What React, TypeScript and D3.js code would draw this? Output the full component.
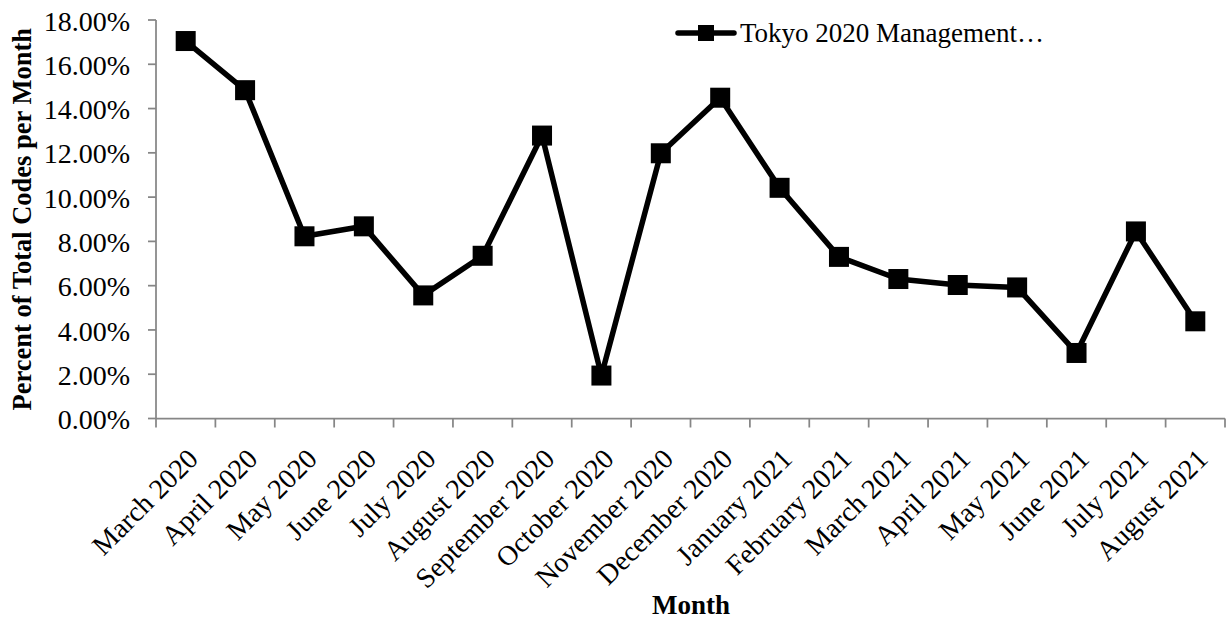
import React from "react";
import * as d3 from "d3";

// Monthly share of total codes, March 2020 – August 2021
const months = [
  "March 2020", "April 2020", "May 2020", "June 2020", "July 2020", "August 2020",
  "September 2020", "October 2020", "November 2020", "December 2020", "January 2021",
  "February 2021", "March 2021", "April 2021", "May 2021", "June 2021", "July 2021", "August 2021",
];
const shares = [
  17.05, 14.83, 8.23, 8.68, 5.56, 7.35, 12.78, 1.94, 11.98, 14.49, 10.42,
  7.30, 6.30, 6.03, 5.92, 2.96, 8.45, 4.39,
];
const yTicks = [0, 2, 4, 6, 8, 10, 12, 14, 16, 18];
const seriesName = "Tokyo 2020 Management…";

const W = 1229;
const H = 627;
const FONT = "'Liberation Serif', 'Times New Roman', serif";
const AXIS = "#868686";

export default function App() {
  const left = 156;
  const right = 1225;
  const top = 20;
  const bottom = 418.5;

  const x = d3.scaleBand<string>().domain(months).range([left, right]).padding(0);
  const y = d3.scaleLinear().domain([0, 18]).range([bottom, top]);
  const cx = (m: string) => (x(m) ?? 0) + x.bandwidth() / 2;

  const line = d3
    .line<number>()
    .x((_, i) => cx(months[i]))
    .y((d) => y(d));

  const xTickPos = [...months.map((m) => x(m) ?? 0), right];
  const marker = 20;

  return (
    <svg
      width={W}
      height={H}
      style={{ position: "absolute", left: 0, top: 0, background: "#fff" }}
      fontFamily={FONT}
    >
      {/* y axis */}
      <line x1={left} x2={left} y1={top} y2={bottom} stroke={AXIS} strokeWidth={1.75} />
      {yTicks.map((t) => (
        <g key={t}>
          <line x1={left - 8} x2={left} y1={y(t)} y2={y(t)} stroke={AXIS} strokeWidth={1.75} />
          <text x={130} y={y(t)} dy="0.38em" textAnchor="end" fontSize={28} fill="#000">
            {t.toFixed(2)}%
          </text>
        </g>
      ))}

      {/* x axis */}
      <line x1={left} x2={right} y1={bottom} y2={bottom} stroke={AXIS} strokeWidth={1.75} />
      {xTickPos.map((p, i) => (
        <line key={i} x1={p} x2={p} y1={bottom} y2={bottom + 9} stroke={AXIS} strokeWidth={1.75} />
      ))}
      {months.map((m) => (
        <text
          key={m}
          transform={`translate(${cx(m) + 1},${bottom + 29}) rotate(-45)`}
          textAnchor="end"
          dy="0.66em"
          fontSize={28}
          fill="#000"
        >
          {m}
        </text>
      ))}

      {/* axis titles */}
      <text x={691} y={614} textAnchor="middle" fontSize={27} fontWeight="bold" fill="#000">
        Month
      </text>
      <text
        transform={`translate(31,${(top + bottom) / 2}) rotate(-90)`}
        textAnchor="middle"
        fontSize={26.5}
        fontWeight="bold"
        fill="#000"
      >
        Percent of Total Codes per Month
      </text>

      {/* series */}
      <path d={line(shares) ?? ""} fill="none" stroke="#000" strokeWidth={5.5} strokeLinejoin="round" />
      {shares.map((v, i) => (
        <rect
          key={i}
          x={cx(months[i]) - marker / 2}
          y={y(v) - marker / 2}
          width={marker}
          height={marker}
          fill="#000"
        />
      ))}

      {/* legend */}
      <line x1={678} x2={734} y1={33} y2={33} stroke="#000" strokeWidth={5.5} strokeLinecap="round" />
      <rect x={706 - 8} y={33 - 8} width={16} height={16} fill="#000" />
      <text x={740} y={42} fontSize={27} fill="#000">
        {seriesName}
      </text>
    </svg>
  );
}
